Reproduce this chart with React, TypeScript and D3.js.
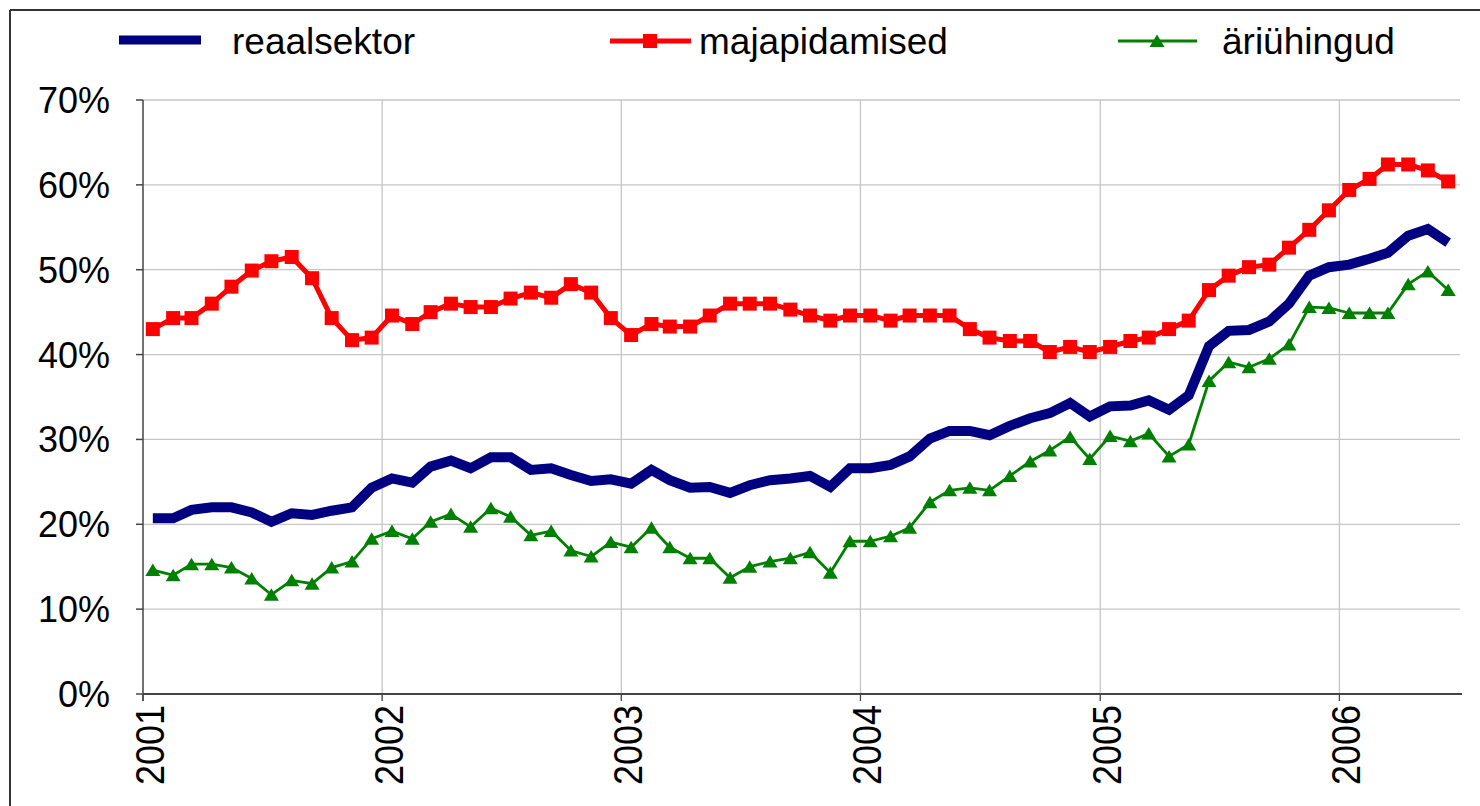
import React from "react";
import * as d3 from "d3";

const startYear = 2001;
const yearTicks = [2001, 2002, 2003, 2004, 2005, 2006];
const yTicks = [0, 10, 20, 30, 40, 50, 60, 70];

const reaalsektor = [
  20.7, 20.7, 21.7, 22.0, 22.0, 21.4, 20.3, 21.3, 21.1, 21.6, 22.0, 24.3,
  25.4, 24.9, 26.8, 27.5, 26.6, 27.9, 27.9, 26.4, 26.6, 25.8, 25.1, 25.3,
  24.8, 26.4, 25.2, 24.3, 24.4, 23.7, 24.6, 25.2, 25.4, 25.7, 24.4, 26.6,
  26.6, 27.0, 28.0, 30.1, 31.0, 31.0, 30.5, 31.6, 32.5, 33.1, 34.3, 32.7,
  33.9, 34.0, 34.6, 33.5, 35.2, 41.0, 42.8, 42.9, 43.9, 46.0, 49.3, 50.3,
  50.6, 51.3, 52.0, 54.0, 54.8, 53.2,
];

const majapidamised = [
  43.0, 44.3, 44.3, 46.0, 48.0, 49.9, 51.0, 51.5, 49.0, 44.3, 41.7, 42.0,
  44.6, 43.6, 45.0, 46.0, 45.6, 45.6, 46.6, 47.3, 46.7, 48.3, 47.3, 44.3,
  42.3, 43.6, 43.3, 43.3, 44.6, 46.0, 46.0, 46.0, 45.3, 44.6, 44.0, 44.6,
  44.6, 44.0, 44.6, 44.6, 44.6, 43.0, 42.0, 41.6, 41.6, 40.3, 40.9, 40.3,
  40.9, 41.6, 42.0, 43.0, 44.0, 47.6, 49.3, 50.3, 50.6, 52.6, 54.7, 57.0,
  59.4, 60.7, 62.4, 62.4, 61.7, 60.4,
];

const ariuhingud = [
  14.6, 14.0, 15.3, 15.3, 14.9, 13.6, 11.7, 13.4, 13.0, 14.9, 15.6, 18.3,
  19.2, 18.3, 20.3, 21.2, 19.7, 21.9, 20.9, 18.7, 19.2, 16.9, 16.2, 17.9,
  17.3, 19.6, 17.3, 16.0, 16.0, 13.7, 15.0, 15.6, 16.0, 16.7, 14.3, 18.0,
  18.0, 18.6, 19.6, 22.6, 24.0, 24.3, 24.0, 25.7, 27.4, 28.7, 30.3, 27.7,
  30.4, 29.8, 30.7, 28.0, 29.4, 36.9, 39.1, 38.5, 39.5, 41.2, 45.6, 45.5,
  44.9, 44.9, 44.9, 48.3, 49.8, 47.6,
];

const seriesNames = ["reaalsektor", "majapidamised", "äriühingud"];

const FONT = "'Liberation Sans', Arial, Helvetica, sans-serif";

export default function App() {
  const W = 1480, H = 806;
  const left = 143, right = 1458, top = 100, bottom = 694;
  const x = d3.scaleTime().domain([new Date(2001, 0, 1), new Date(2006, 6, 1)]).range([left, right]);
  const y = d3.scaleLinear().domain([0, 70]).range([bottom, top]);
  const dates = reaalsektor.map((_, i) => new Date(startYear, i, 16));
  const line = d3.line<number>().x((_, i) => x(dates[i])).y((v) => y(v));

  const tri = (cx: number, cy: number) => `M${cx},${cy - 6.5} L${cx + 7.5},${cy + 6} L${cx - 7.5},${cy + 6} Z`;

  return (
    <svg width={W} height={H} style={{ position: "absolute", left: 0, top: 0, background: "#fff" }}>
      <rect x={0} y={0} width={W} height={H} fill="#fff" />
      {/* frame */}
      <line x1={10} y1={10} x2={W} y2={10} stroke="#333" strokeWidth={2} />
      <line x1={10} y1={10} x2={10} y2={H} stroke="#333" strokeWidth={2} />

      {/* gridlines */}
      {yTicks.filter((t) => t > 0).map((t) => (
        <line key={"gy" + t} x1={left} x2={1460} y1={y(t)} y2={y(t)} stroke="#c6c6c6" strokeWidth={1.3} />
      ))}
      {yearTicks.filter((t) => t > 2001).map((t) => (
        <line key={"gx" + t} x1={x(new Date(t, 0, 1))} x2={x(new Date(t, 0, 1))} y1={top} y2={bottom + 7} stroke="#c6c6c6" strokeWidth={1.3} />
      ))}

      {/* axes */}
      <line x1={left} x2={left} y1={top} y2={bottom + 7} stroke="#444" strokeWidth={1.5} />
      <line x1={left} x2={1462} y1={bottom} y2={bottom} stroke="#444" strokeWidth={2} />
      {yTicks.map((t) => (
        <line key={"ty" + t} x1={left - 7} x2={left} y1={y(t)} y2={y(t)} stroke="#444" strokeWidth={1.5} />
      ))}
      {yearTicks.map((t) => (
        <line key={"tx" + t} x1={x(new Date(t, 0, 1))} x2={x(new Date(t, 0, 1))} y1={bottom} y2={bottom + 7} stroke="#444" strokeWidth={1.2} />
      ))}

      {/* y labels */}
      {yTicks.map((t) => (
        <text key={"ly" + t} transform={`translate(110,${y(t)})`} textAnchor="end" dy="0.36em"
          fontFamily={FONT} fontSize={36} fill="#000">{t + "%"}</text>
      ))}
      {/* x labels */}
      {yearTicks.map((t) => (
        <text key={"lx" + t} transform={`translate(${x(new Date(t, 0, 1)) + 6},705) scale(1.12,1) rotate(-90)`} textAnchor="end" dy="0.36em"
          fontFamily={FONT} fontSize={36} fill="#000">{String(t)}</text>
      ))}

      {/* series */}
      <path d={line(reaalsektor) || ""} fill="none" stroke="#000080" strokeWidth={10} strokeLinejoin="miter" />
      <path d={line(majapidamised) || ""} fill="none" stroke="#ff0000" strokeWidth={5} strokeLinejoin="round" />
      {majapidamised.map((v, i) => (
        <rect key={"m" + i} x={x(dates[i]) - 7} y={y(v) - 7} width={14} height={14} fill="#ff0000" />
      ))}
      <path d={line(ariuhingud) || ""} fill="none" stroke="#008000" strokeWidth={2.8} strokeLinejoin="round" />
      {ariuhingud.map((v, i) => (
        <path key={"a" + i} d={tri(x(dates[i]), y(v))} fill="#008000" />
      ))}

      {/* legend */}
      <line x1={119} x2={201} y1={40} y2={40} stroke="#000080" strokeWidth={9} />
      <text transform="translate(232,54)" fontFamily={FONT} fontSize={37} fill="#000">{seriesNames[0]}</text>
      <line x1={610} x2={691} y1={41} y2={41} stroke="#ff0000" strokeWidth={5} />
      <rect x={643} y={34} width={14} height={14} fill="#ff0000" />
      <text transform="translate(699,54)" fontFamily={FONT} fontSize={37} fill="#000">{seriesNames[1]}</text>
      <line x1={1118} x2={1197} y1={41} y2={41} stroke="#008000" strokeWidth={2.8} />
      <path d={tri(1157, 41)} fill="#008000" />
      <text transform="translate(1222,54)" fontFamily={FONT} fontSize={37} fill="#000">{seriesNames[2]}</text>
    </svg>
  );
}
